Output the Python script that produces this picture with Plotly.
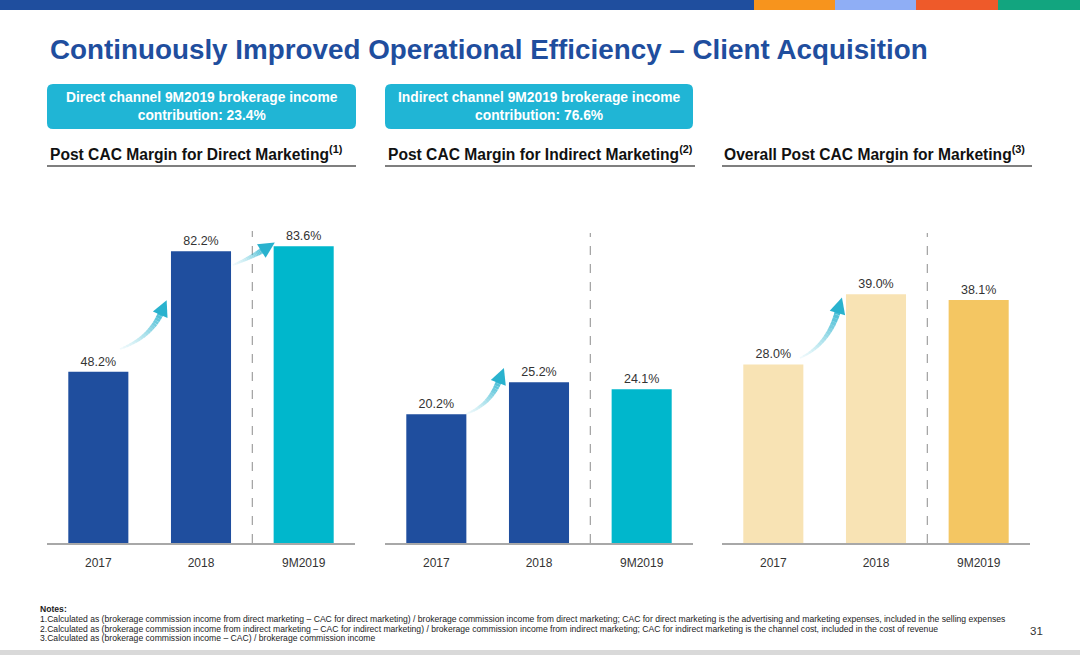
import plotly.graph_objects as go

W, H = 1080, 655

categories = ["2017", "2018", "9M2019"]
direct_values = [48.2, 82.2, 83.6]
indirect_values = [20.2, 25.2, 24.1]
overall_values = [28.0, 39.0, 38.1]

direct_colors = ["#1F4E9E", "#1F4E9E", "#00B7CC"]
indirect_colors = ["#1F4E9E", "#1F4E9E", "#00B7CC"]
overall_colors = ["#F8E3B4", "#F8E3B4", "#F4C662"]

title_text = "Continuously Improved Operational Efficiency \u2013 Client Acquisition"
box_texts = ["Direct channel 9M2019 brokerage income<br>contribution: 23.4%",
             "Indirect channel 9M2019 brokerage income<br>contribution: 76.6%"]
headers = ["Post CAC Margin for Direct Marketing<sup>(1)</sup>",
           "Post CAC Margin for Indirect Marketing<sup>(2)</sup>",
           "Overall Post CAC Margin for Marketing<sup>(3)</sup>"]
notes = [
    "1.Calculated as (brokerage commission income from direct marketing \u2013 CAC for direct marketing) / brokerage commission income from direct marketing; CAC for direct marketing is the advertising and marketing expenses, included in the selling expenses",
    "2.Calculated as (brokerage commission income from indirect marketing \u2013 CAC for indirect marketing) / brokerage commission income from indirect marketing; CAC for indirect marketing is the channel cost, included in the cost of revenue",
    "3.Calculated as (brokerage commission income \u2013 CAC) / brokerage commission income",
]


def px(x):
    return x / W


def py(y):
    return 1 - y / H


FONT = "Liberation Sans, Arial, sans-serif"
fig = go.Figure()

panels = [(direct_values, direct_colors, 47, 355, 96.6),
          (indirect_values, indirect_colors, 385, 693, 53.8),
          (overall_values, overall_colors, 722, 1030, 53.8)]
plot_top, plot_bottom = 200, 543

layout_axes = {}
for i, (vals, cols, x0, x1, ymax) in enumerate(panels, start=1):
    sfx = "" if i == 1 else str(i)
    fig.add_trace(go.Bar(
        x=categories, y=vals, marker=dict(color=cols, line=dict(width=0)),
        texttemplate="%{y:.1f}%", textposition="outside",
        textfont=dict(size=12.5, color="#333333", family=FONT),
        cliponaxis=False, xaxis="x" + sfx, yaxis="y" + sfx, showlegend=False,
        hoverinfo="skip"))
    layout_axes["xaxis" + sfx] = dict(
        domain=[px(x0), px(x1)], anchor="y" + sfx, type="category",
        showline=True, linecolor="#A8A8A8", linewidth=1.5, ticks="",
        showgrid=False, zeroline=False, ticklabelstandoff=8,
        tickfont=dict(size=12, color="#333333", family=FONT), fixedrange=True)
    layout_axes["yaxis" + sfx] = dict(
        domain=[py(plot_bottom), py(plot_top)], anchor="x" + sfx,
        range=[0, ymax], visible=False, showgrid=False, zeroline=False,
        fixedrange=True)

fig.update_layout(**layout_axes)

shapes = []
# top colour strip
strip = [(0, 754, "#1F4E9E"), (754, 835, "#F7941D"), (835, 916, "#8FAEF5"),
         (916, 998, "#EE5A2A"), (998, 1080, "#12A57F")]
for a, b, c in strip:
    shapes.append(dict(type="rect", xref="paper", yref="paper", x0=px(a), x1=px(b),
                       y0=py(10), y1=py(0), fillcolor=c, line=dict(width=0), layer="above"))

# bottom border
shapes.append(dict(type="rect", xref="paper", yref="paper", x0=0, x1=1,
                   y0=0, y1=py(650), fillcolor="#D9D9D9", line=dict(width=0)))


def rounded_rect(x0, y0, x1, y1, r):
    X0, X1 = px(x0), px(x1)
    Y0, Y1 = py(y0), py(y1)
    rx, ry = r / W, r / H
    return (f"M {X0+rx},{Y0} L {X1-rx},{Y0} Q {X1},{Y0} {X1},{Y0-ry} "
            f"L {X1},{Y1+ry} Q {X1},{Y1} {X1-rx},{Y1} L {X0+rx},{Y1} "
            f"Q {X0},{Y1} {X0},{Y1+ry} L {X0},{Y0-ry} Q {X0},{Y0} {X0+rx},{Y0} Z")


box_pos = [(47, 356), (385, 693)]
for (a, b) in box_pos:
    shapes.append(dict(type="path", xref="paper", yref="paper",
                       path=rounded_rect(a, 84, b, 129, 6),
                       fillcolor="#20B5D5", line=dict(width=0)))

# header underlines
for a, b in [(47, 356), (385, 695), (722, 1032)]:
    shapes.append(dict(type="line", xref="paper", yref="paper", x0=px(a), x1=px(b),
                       y0=py(166), y1=py(166), line=dict(color="#555555", width=1.3)))

# dashed separators between 2018 and 9M2019
for sfx, top in [("", 231), ("2", 233), ("3", 233)]:
    shapes.append(dict(type="line", xref="x" + sfx, yref="paper", x0=1.5, x1=1.5,
                       y0=py(plot_bottom), y1=py(top),
                       line=dict(color="#A0A0A0", width=1.2, dash="dash")))


# gradient curved arrows
def bez(p0, p1, p2, t):
    return ((1 - t) ** 2 * p0[0] + 2 * (1 - t) * t * p1[0] + t ** 2 * p2[0],
            (1 - t) ** 2 * p0[1] + 2 * (1 - t) * t * p1[1] + t ** 2 * p2[1])


arrows = [((120, 349), (150, 338), (161, 313)),
          ((233, 265), (252, 257), (263, 250)),
          ((466, 414), (490, 405), (499, 381)),
          ((800, 358), (828, 345), (838, 311))]
N = 18
for p0, p1, p2 in arrows:
    for k in range(N):
        t0, t1 = k / N, (k + 1) / N
        a = bez(p0, p1, p2, t0)
        b = bez(p0, p1, p2, t1)
        f = (k + 1) / N
        shapes.append(dict(type="line", xref="paper", yref="paper",
                           x0=px(a[0]), y0=py(a[1]), x1=px(b[0]), y1=py(b[1]),
                           line=dict(color=f"rgba(40,178,206,{0.05 + 0.8 * f ** 1.3:.2f})",
                                     width=1.5 + 4.5 * f)))
    dx, dy = p2[0] - p1[0], p2[1] - p1[1]
    L = (dx ** 2 + dy ** 2) ** 0.5
    ux, uy = dx / L, dy / L
    nx, ny = -uy, ux
    tip = (p2[0] + 14 * ux, p2[1] + 14 * uy)
    bl = (p2[0] - 2 * ux + 8 * nx, p2[1] - 2 * uy + 8 * ny)
    br = (p2[0] - 2 * ux - 8 * nx, p2[1] - 2 * uy - 8 * ny)
    path = (f"M {px(tip[0])},{py(tip[1])} L {px(bl[0])},{py(bl[1])} "
            f"L {px(br[0])},{py(br[1])} Z")
    shapes.append(dict(type="path", xref="paper", yref="paper", path=path,
                       fillcolor="#29B2CE", line=dict(width=0)))

annotations = []
annotations.append(dict(text=f"<b>{title_text}</b>", x=px(48), y=py(49), xref="paper",
                        yref="paper", xanchor="left", yanchor="middle", showarrow=False,
                        font=dict(size=27.8, color="#1F4E9E", family=FONT)))
for (a, b), t in zip(box_pos, box_texts):
    annotations.append(dict(text=f"<b>{t}</b>", x=px((a + b) / 2), y=py(106.5),
                            xref="paper", yref="paper", xanchor="center", yanchor="middle",
                            showarrow=False, align="center",
                            font=dict(size=13.8, color="white", family=FONT)))
for a, t in zip([48, 386, 722], headers):
    annotations.append(dict(text=f"<b>{t}</b>", x=px(a), y=py(153), xref="paper",
                            yref="paper", xanchor="left", yanchor="middle", showarrow=False,
                            font=dict(size=15.6, color="#111111", family=FONT)))
annotations.append(dict(text="<b>Notes:</b>", x=px(38), y=py(609), xref="paper",
                        yref="paper", xanchor="left", yanchor="middle", showarrow=False,
                        font=dict(size=8.6, color="#222222", family=FONT)))
for j, n in enumerate(notes):
    annotations.append(dict(text=n, x=px(38), y=py(619 + 9.5 * j), xref="paper",
                            yref="paper", xanchor="left", yanchor="middle", showarrow=False,
                            font=dict(size=8.6, color="#222222", family=FONT)))
annotations.append(dict(text="31", x=px(1036), y=py(631), xref="paper", yref="paper",
                        xanchor="center", yanchor="middle", showarrow=False,
                        font=dict(size=11.5, color="#333333", family=FONT)))

fig.update_layout(width=W, height=H, margin=dict(l=0, r=0, t=0, b=0),
                  paper_bgcolor="white", plot_bgcolor="rgba(0,0,0,0)",
                  bargap=0.415, shapes=shapes, annotations=annotations,
                  font=dict(family=FONT))

fig.write_html("out.html", config={"displayModeBar": False},
               post_script="document.body.style.margin='0';document.body.style.overflow='hidden';")
